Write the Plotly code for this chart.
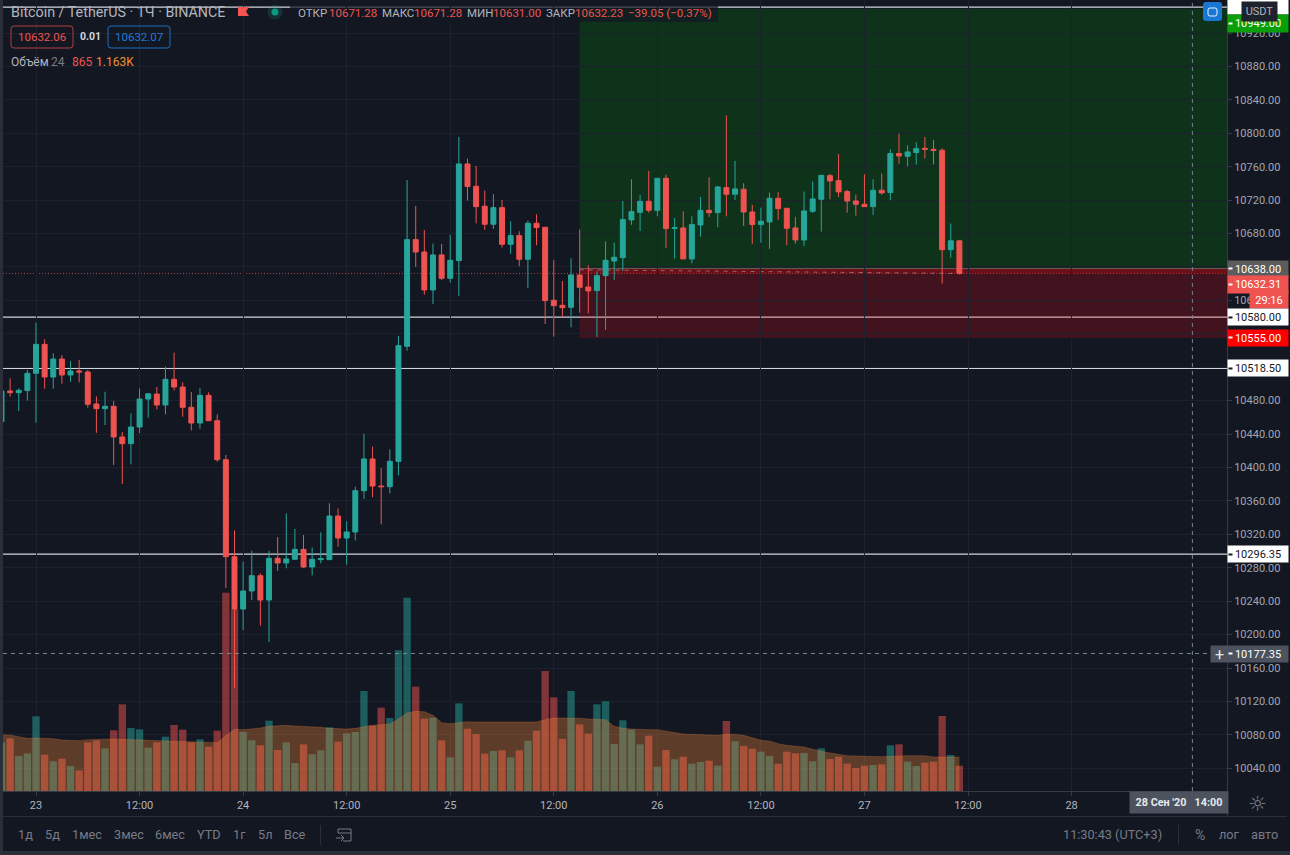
import pandas as pd
import plotly.graph_objects as go

# Hourly BTC/USDT candles from 22 Sep 2020 20:00 to 27 Sep 2020 11:00
hours = pd.date_range("2020-09-22 20:00", periods=112, freq="h")

opens = [10455, 10491.5, 10489.5, 10492, 10512.7, 10547.4, 10508.3, 10529.8, 10510.7, 10515.5, 10514.3, 10476, 10470.4, 10473.2, 10436.5, 10428.5,
         10448.4, 10481.9, 10487.9, 10474.8, 10505.5, 10496.3, 10472, 10453.2, 10486.3, 10456, 10409.3, 10293.2, 10230.6, 10252.2, 10270.5, 10241.4,
         10291.3, 10285.7, 10290.1, 10302, 10280.9, 10289.7, 10289.7, 10341.9, 10315.6, 10322.8, 10372.2, 10410.2, 10377.8, 10377, 10407.3, 10545,
         10672.7, 10657.9, 10612.5, 10654.4, 10626.4, 10647.6, 10763.3, 10736.6, 10712.6, 10691.1, 10711, 10667.1, 10677.5, 10649.2, 10692.3, 10687.5,
         10600.1, 10594.1, 10591.7, 10630.4, 10616, 10611.7, 10629.6, 10647.2, 10651.2, 10696.3, 10705.4, 10718.6, 10707.8, 10746.1, 10685.9, 10686.7,
         10649.6, 10690.3, 10707.8, 10705, 10735, 10727, 10733, 10705.8, 10690.7, 10693.9, 10722.2, 10710.2, 10686.7, 10672.3, 10706.6, 10721,
         10749.3, 10743.3, 10730.2, 10719, 10715, 10712.2, 10731.8, 10729, 10775.7, 10772.5, 10776.9, 10782, 10780.8, 10779.6, 10660.7, 10671.28]
highs = [10491.5, 10506.7, 10494.7, 10516.6, 10573.3, 10553.4, 10536.6, 10534.6, 10527.4, 10528.6, 10516.6, 10485.1, 10490.7, 10479.5, 10442.4, 10464.8,
         10494.7, 10488.7, 10496.3, 10520.6, 10537.4, 10501.9, 10490.3, 10495.1, 10489.9, 10463.6, 10414.9, 10324.8, 10287.3, 10300.4, 10273.3, 10300.4,
         10316.8, 10345.1, 10326.4, 10319.2, 10304.4, 10322.4, 10357.1, 10351.1, 10335.5, 10377, 10440.4, 10424.9, 10399.4, 10421.7, 10557.4, 10744.1,
         10713, 10684.3, 10667.9, 10667.5, 10678.3, 10795.6, 10769.7, 10760.9, 10731.4, 10727.4, 10720.2, 10694.7, 10682.7, 10695.5, 10703, 10687.5,
         10648.4, 10623.2, 10650.4, 10684.7, 10642, 10634.8, 10670.7, 10669.1, 10719, 10744.9, 10726.2, 10754.9, 10746.5, 10750.5, 10698.7, 10706.6,
         10700.6, 10723.8, 10747.3, 10737, 10821.5, 10766.9, 10740.2, 10714.2, 10711, 10729, 10729.4, 10710.2, 10699.9, 10730.2, 10742.2, 10749.7,
         10751.3, 10774.9, 10732.2, 10726.6, 10750.9, 10744.9, 10751.7, 10780.8, 10799.6, 10785.6, 10789.2, 10795.6, 10792, 10782, 10691.9, 10671.28]
lows = [10455, 10484.7, 10467.6, 10480, 10453.6, 10494.3, 10494.3, 10500.3, 10502.7, 10501.9, 10471.6, 10441.6, 10450.8, 10402.9, 10380.2, 10403.7,
        10441.2, 10459.6, 10469.6, 10463.6, 10492.3, 10460.8, 10444.4, 10446.4, 10455.6, 10406.9, 10255.7, 10136.4, 10205.5, 10241.4, 10210.7, 10191.1,
        10276.1, 10279.3, 10290.1, 10279.7, 10270.9, 10285.3, 10289.7, 10305.2, 10283.7, 10312.8, 10362.3, 10364.3, 10331.9, 10369.1, 10390.6, 10539.8,
        10640, 10606.9, 10595.7, 10624.4, 10621.3, 10605.3, 10719.4, 10692.3, 10684.3, 10685.5, 10663.1, 10655.6, 10640.8, 10614.5, 10666, 10571.8,
        10556.6, 10579.8, 10567.8, 10585.3, 10584.5, 10556.2, 10564.6, 10624.4, 10635.2, 10690.3, 10683.1, 10705, 10700.6, 10662.7, 10650, 10649.6,
        10644.4, 10676.3, 10699.9, 10687.5, 10700.6, 10720.2, 10689.1, 10667.5, 10669.1, 10661.6, 10696.3, 10665.9, 10667.9, 10665.1, 10704.6, 10682.3,
        10721, 10723.8, 10705, 10701.4, 10712.2, 10702.2, 10726.6, 10719.8, 10763.7, 10760.1, 10762.5, 10769.7, 10762.9, 10620, 10651.2, 10631]
closes = [10491.5, 10489.5, 10492.3, 10512.7, 10547.4, 10508.3, 10529.8, 10510.7, 10515.5, 10514.3, 10475.6, 10470.4, 10473.2, 10436.5, 10428.5, 10448.4,
          10481.9, 10488.3, 10474.8, 10505.5, 10496.3, 10472, 10453.2, 10486.3, 10456, 10409.3, 10293.2, 10230.6, 10252.2, 10270.5, 10241.4, 10291.3,
          10285.7, 10290.5, 10302, 10280.9, 10290.1, 10290.9, 10341.9, 10315.6, 10322.8, 10372.2, 10410.2, 10377.8, 10377, 10407.4, 10545.8, 10672.7,
          10657.9, 10612.5, 10654.4, 10626.4, 10648, 10763.3, 10736.2, 10712.2, 10691.1, 10711, 10667.1, 10677.5, 10649.2, 10692.3, 10687.1, 10599.7,
          10593.7, 10591.3, 10630.4, 10615.7, 10611.3, 10629.6, 10648, 10651.6, 10696.7, 10706.2, 10718.6, 10707.8, 10746.1, 10685.9, 10687.1, 10649.6,
          10690.7, 10707.8, 10705, 10735.8, 10727, 10733.4, 10705.8, 10690.7, 10694.7, 10722.2, 10709.8, 10686.3, 10672.3, 10707, 10721.4, 10749.7,
          10742.9, 10729.8, 10719, 10715, 10712.2, 10731.8, 10728.6, 10775.7, 10772.9, 10777.7, 10781.6, 10780.8, 10779.3, 10660.7, 10671.3, 10632.23]

volumes = [1664, 1801, 1197, 1288, 2554, 1243, 1015, 1106, 855, 707, 1664, 1733, 1459, 2075, 2964, 2155,
           2109, 1482, 1664, 1858, 2257, 2098, 1664, 1767, 1516, 2063, 6783, 6214, 2018, 1733, 1562, 2405,
           1402, 1664, 958, 1596, 1254, 1391, 2177, 1687, 1972, 2018, 3420, 2234, 2850, 2497, 4811, 6612,
           3568, 2474, 2508, 1733, 1151, 2998, 2132, 1949, 1277, 1368, 1391, 1151, 1391, 1721, 2063, 4104,
           3203, 1778, 3420, 2280, 1961, 2964, 3067, 1607, 2417, 2098, 1596, 1892, 832, 1402, 1083, 1174,
           935, 992, 1037, 866, 2394, 1699, 1539, 1448, 1345, 1197, 935, 1345, 1288, 1300, 1015, 1459,
           1094, 1174, 935, 787, 866, 889, 912, 1562, 1596, 1003, 855, 969, 1003, 2565, 1231, 865]
volume_avg = [1927, 1915, 1858, 1801, 1813, 1801, 1790, 1744, 1744, 1721, 1756, 1767, 1790, 1778, 1767, 1756,
              1756, 1733, 1721, 1710, 1699, 1699, 1687, 1664, 1653, 1653, 1892, 2109, 2098, 2120, 2155, 2212,
              2223, 2246, 2223, 2212, 2189, 2177, 2143, 2120, 2120, 2143, 2200, 2246, 2269, 2291, 2462, 2668,
              2725, 2713, 2588, 2337, 2303, 2337, 2371, 2360, 2360, 2360, 2360, 2360, 2360, 2360, 2360, 2440,
              2497, 2497, 2497, 2485, 2462, 2462, 2440, 2212, 2143, 2120, 2098, 2098, 2098, 2052, 1995, 1949,
              1938, 1927, 1915, 1904, 1938, 1938, 1904, 1813, 1733, 1710, 1619, 1562, 1539, 1505, 1425, 1357,
              1300, 1254, 1208, 1197, 1186, 1174, 1174, 1186, 1208, 1208, 1208, 1208, 1163, 1174, 1163, 1163]

price_ticks = list(range(10040, 10921, 40))
covered_ticks = [10520, 10560, 10640]
time_ticks = pd.date_range("2020-09-23 00:00", periods=11, freq="12h")
time_labels = ["23", "12:00", "24", "12:00", "25", "12:00", "26", "12:00", "27", "12:00", "28"]

level_lines = [10951, 10580, 10518.5, 10296.35]
stop_price = 10555
entry_price = 10638
target_price = 10949
last_price = 10632.23
cross_price = 10177.35
cross_time = "2020-09-28 14:00"
entry_time = hours[67]
last_time = hours[111]

UP = "#26a69a"
DOWN = "#ef5350"
BG = "#131722"
EDGE = "#2a2e39"
TEXT = "#b2b5be"
DIM = "#787b86"
FONT = "Roboto"

W, H = 1290, 855
LEFT, RIGHT, BOTTOM = 3, 1227, 791
X_START, X_END = "2020-09-22 20:10:33", "2020-09-28 18:00:36"
PRICE_RANGE = [10012.8, 10959.5]
VOLUME_RANGE = [0, 27052]


def fx(px):
    return px / W


def fy(px):
    return 1 - px / H


def rounded(x0, y0, x1, y1, r):
    # Rounded rectangle path in paper fractions
    return (f"M {fx(x0 + r)} {fy(y0)} L {fx(x1 - r)} {fy(y0)} Q {fx(x1)} {fy(y0)} {fx(x1)} {fy(y0 + r)} "
            f"L {fx(x1)} {fy(y1 - r)} Q {fx(x1)} {fy(y1)} {fx(x1 - r)} {fy(y1)} "
            f"L {fx(x0 + r)} {fy(y1)} Q {fx(x0)} {fy(y1)} {fx(x0)} {fy(y1 - r)} "
            f"L {fx(x0)} {fy(y0 + r)} Q {fx(x0)} {fy(y0)} {fx(x0 + r)} {fy(y0)} Z")


fig = go.Figure()

bar_colors = ["rgba(38,166,154,0.5)" if c >= o else "rgba(239,83,80,0.5)" for o, c in zip(opens, closes)]
fig.add_bar(x=hours, y=volumes, marker=dict(color=bar_colors, line_width=0), xaxis="x", yaxis="y", showlegend=False)
fig.add_scatter(x=hours, y=volume_avg, mode="lines", line=dict(color="rgba(255,140,60,0.22)", width=1),
                fill="tozeroy", fillcolor="rgba(255,140,60,0.32)", xaxis="x", yaxis="y", showlegend=False)
fig.add_candlestick(x=hours, open=opens, high=highs, low=lows, close=closes, xaxis="x", yaxis="y2", whiskerwidth=0,
                    increasing=dict(line=dict(color=UP, width=1), fillcolor=UP),
                    decreasing=dict(line=dict(color=DOWN, width=1), fillcolor=DOWN), showlegend=False)

shapes = []


def zone(y0, y1, color, x0=entry_time, x1=X_END):
    shapes.append(dict(type="rect", layer="below", xref="x", yref="y2", x0=x0, x1=x1, y0=y0, y1=y1,
                       fillcolor=color, line_width=0))


def hline(y, color, width=1.0, dash="solid", layer="below"):
    shapes.append(dict(type="line", layer=layer, xref="x domain", yref="y2", x0=0, x1=1, y0=y, y1=y,
                       line=dict(color=color, width=width, dash=dash)))


def panel(x0, y0, x1, y1, color):
    shapes.append(dict(type="rect", xref="paper", yref="paper", x0=fx(x0), x1=fx(x1), y0=fy(y1), y1=fy(y0),
                       fillcolor=color, line_width=0))


def outline(path, color, width=1.0):
    shapes.append(dict(type="path", xref="paper", yref="paper", path=path, fillcolor="rgba(0,0,0,0)",
                       line=dict(color=color, width=width)))


# Long-position tool: profit and risk zones
zone(entry_price, target_price, "rgba(0,160,0,0.2)")
zone(stop_price, entry_price, "rgba(250,5,15,0.2)")
zone(last_price, entry_price, "rgba(255,0,0,0.22)")
shapes.append(dict(type="line", layer="below", xref="x", yref="y2", x0=entry_time, x1=X_END, y0=entry_price, y1=entry_price,
                   line=dict(color="rgba(170,170,170,0.45)", width=1)))
shapes.append(dict(type="line", layer="below", xref="x", yref="y2", x0=entry_time, x1=last_time, y0=entry_price - 1.5, y1=last_price,
                   line=dict(color="rgba(190,190,190,0.5)", width=1, dash="4px,5px")))

for level in level_lines:
    hline(level, "#d1d4dc", 1.3)
hline(last_price, "#a8454a", 1, "1px,2px")

# Crosshair
hline(cross_price, "#758696", 1, "4px,4px", "above")
shapes.append(dict(type="line", xref="x", yref="y domain", x0=cross_time, x1=cross_time, y0=0, y1=1,
                   line=dict(color="#758696", width=1, dash="4px,4px")))

# Window frame and panel separators
panel(0, 0, LEFT, H, EDGE)
panel(0, 851, W, H, EDGE)
panel(LEFT, 816, 1287, 817, EDGE)
panel(1227, 0, 1228, 816, "#363a45")
panel(320, 825, 321, 845, EDGE)
panel(1178, 825, 1179, 845, EDGE)

# Legend backdrop and rounded price chips
panel(290, 0, 718, 22, "rgba(19,23,34,0.72)")
outline(rounded(11, 26, 73, 48, 3), "#b03c3e")
outline(rounded(108, 26, 170, 48, 3), "#1f6cbd")

# Market flag and status dot
shapes.append(dict(type="path", xref="paper", yref="paper", line_width=0, fillcolor="#f45350",
                   path=f"M {fx(238)} {fy(7)} L {fx(249)} {fy(7)} L {fx(246)} {fy(11.5)} L {fx(249)} {fy(16)} L {fx(238)} {fy(16)} Z"))
for radius, color in ((7.5, "rgba(38,166,154,0.18)"), (3.5, "#089981")):
    shapes.append(dict(type="circle", xref="paper", yref="paper", line_width=0, fillcolor=color,
                       x0=fx(275 - radius), x1=fx(275 + radius), y0=fy(12 + radius), y1=fy(12 - radius)))

# Fullscreen button
shapes.append(dict(type="path", xref="paper", yref="paper", path=rounded(1203, 2, 1222, 21, 3), fillcolor="#1976d2", line_width=0))
outline(rounded(1208, 8, 1217, 16, 2), "#e8f1fb")

# Replay calendar icon in the toolbar
outline(f"M {fx(338)} {fy(833)} L {fx(338)} {fy(829)} L {fx(351)} {fy(829)} L {fx(351)} {fy(841)} L {fx(343)} {fy(841)}", DIM)
outline(f"M {fx(338)} {fy(833)} L {fx(351)} {fy(833)}", DIM)
outline(f"M {fx(336)} {fy(838)} L {fx(344)} {fy(838)} M {fx(341)} {fy(835)} L {fx(344)} {fy(838)} L {fx(341)} {fy(841)}", DIM)

annotations = []


def text(x, y, s, color=TEXT, size=11.5, anchor="left", family=FONT):
    annotations.append(dict(xref="paper", yref="paper", x=fx(x), y=fy(y), text=s, showarrow=False, xanchor=anchor,
                            yanchor="middle", borderpad=0, font=dict(family=family, size=size, color=color)))


def axis_label(price, s, bg, color="#ffffff", shift=0, x=1227, width=60, height=16, size=11):
    annotations.append(dict(xref="paper", yref="y2", x=fx(x), y=price, yshift=shift, text=s, showarrow=False,
                            xanchor="left", yanchor="middle", width=width, height=height, bgcolor=bg,
                            borderpad=0, font=dict(family=FONT, size=size, color=color)))


def axis_tick(price, color, shift=0):
    annotations.append(dict(xref="paper", yref="y2", x=fx(1228), y=price, yshift=shift, text="", showarrow=False,
                            xanchor="left", yanchor="middle", width=3, height=1, bgcolor=color, borderpad=0))


# Legend rows
text(10, 12, "Bitcoin / TetherUS · 1Ч · BINANCE", TEXT, 14.3)
for x, s, color in ((297, "ОТКР", TEXT), (328, "10671.28", DOWN), (381, "МАКС", TEXT), (413, "10671.28", DOWN),
                    (466, "МИН", TEXT), (492, "10631.00", DOWN), (545, "ЗАКР", TEXT), (574, "10632.23", DOWN),
                    (627, "−39.05 (−0.37%)", DOWN)):
    text(x, 13, s, color)
text(42, 37, "10632.06", DOWN, 11.5, "center")
text(90.5, 37, "<b>0.01</b>", "#d1d4dc", 10.5, "center")
text(139, 37, "10632.07", "#2079d4", 11.5, "center")
text(10, 62, "Объём", TEXT, 12)
text(50, 62, "24", DIM, 12)
text(71, 62, "865", DOWN, 12)
text(95, 62, "1.163K", "#f0902e", 12)

# Price scale labels
axis_label(10951, "", "#ffffff", shift=1)
axis_label(target_price, "10949.00", "#0a9f0a", shift=-14.7, height=17)
axis_label(entry_price, "10638.00", "#5c5c5c")
axis_label(last_price, "10632.31", DOWN, shift=-11, height=17)
axis_label(10600, "29:16", DOWN, x=1249, width=38)
axis_label(10580, "10580.00", "#ffffff", "#131722")
axis_label(stop_price, "10555.00", "#ff0000")
axis_label(10518.5, "10518.50", "#ffffff", "#131722")
axis_label(10296.35, "10296.35", "#ffffff", "#131722")
axis_label(cross_price, "10177.35", "#4c525e")
axis_label(cross_price, "+", "#4c525e", "#e6e8ec", x=1210, width=17, size=16)
axis_tick(target_price, "#ffffff", shift=-14.7)
axis_tick(entry_price, "#ffffff")
axis_tick(last_price, "#ffffff", shift=-11)
for level in (10580, 10518.5, 10296.35):
    axis_tick(level, "#131722")
axis_tick(stop_price, "#ffffff")
axis_tick(cross_price, "#ffffff")
annotations.append(dict(xref="paper", yref="paper", x=fx(1241), y=fy(11.5), text="USDT", showarrow=False, xanchor="left",
                        yanchor="middle", width=33, height=17, bgcolor="#1e222d", font=dict(family=FONT, size=11, color=TEXT)))
annotations.append(dict(xref="paper", yref="paper", x=fx(1129), y=fy(802.5), text="<b>28 Сен '20   14:00</b>", showarrow=False,
                        xanchor="left", yanchor="middle", width=98, height=21, bgcolor="#4c525e", borderpad=0,
                        font=dict(family=FONT, size=10.8, color="#e6e8ec")))

# Bottom toolbar
for x, s in ((17, "1д"), (44, "5д"), (71, "1мес"), (113, "3мес"), (154, "6мес"), (196, "YTD"), (232, "1г"), (257, "5л"), (283, "Все")):
    text(x, 834.5, s, DIM, 12.7)
text(1062, 834.5, "11:30:43 (UTC+3)", DIM, 12.7)
text(1199.5, 834.5, "%", DIM, 14, "center")
text(1218, 834.5, "лог", DIM, 12.7)
text(1250, 834.5, "авто", DIM, 12.7)
text(1257.5, 804, "☼", DIM, 21, "center", "DejaVu Sans")

fig.update_layout(
    width=W, height=H, margin=dict(l=0, r=0, t=0, b=0, pad=0), autosize=False,
    paper_bgcolor=BG, plot_bgcolor=BG, hovermode=False, dragmode=False, showlegend=False,
    barmode="overlay", bargap=0.15, boxgap=0.18,
    xaxis=dict(type="date", domain=[fx(LEFT), fx(RIGHT)], range=[X_START, X_END], rangeslider=dict(visible=False),
               tickmode="array", tickvals=list(time_ticks), ticktext=time_labels, ticks="outside", ticklen=4,
               tickcolor="#363a45", showgrid=True, gridcolor="#1c212d", gridwidth=1, showline=True, linecolor="#363a45",
               linewidth=1, zeroline=False, tickfont=dict(family=FONT, size=11, color=TEXT), anchor="y", fixedrange=True),
    yaxis=dict(domain=[fy(BOTTOM), 1], range=VOLUME_RANGE, visible=False, fixedrange=True),
    yaxis2=dict(domain=[fy(BOTTOM), 1], range=PRICE_RANGE, overlaying="y", side="right", anchor="x", tickmode="array",
                tickvals=price_ticks, ticktext=["" if p in covered_ticks else f"{p:.2f}" for p in price_ticks],
                ticks="outside", ticklen=4, tickcolor="#363a45", showgrid=True, gridcolor="#1c212d", gridwidth=1,
                zeroline=False, showline=False, tickfont=dict(family=FONT, size=11, color="#a3a6af"), fixedrange=True),
    shapes=shapes, annotations=annotations,
)

fig.write_html("out.html", config=dict(displayModeBar=False))
